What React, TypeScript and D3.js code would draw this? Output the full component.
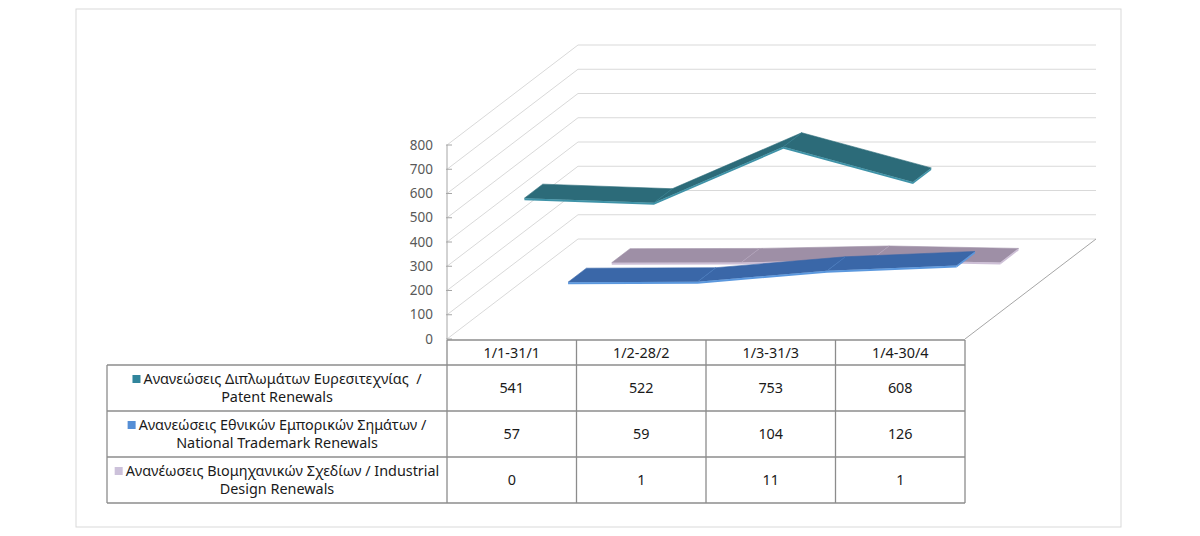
import React, { useEffect, useRef } from "react";
import * as d3 from "d3";

const categories = ["1/1-31/1", "1/2-28/2", "1/3-31/3", "1/4-30/4"];
const patentValues = [541, 522, 753, 608];
const trademarkValues = [57, 59, 104, 126];
const designValues = [0, 1, 11, 1];
const yTicks = [0, 100, 200, 300, 400, 500, 600, 700, 800];

const seriesNames = [
  ["Ανανεώσεις Διπλωμάτων Ευρεσιτεχνίας  /", "Patent Renewals"],
  ["Ανανεώσεις Εθνικών Εμπορικών Σημάτων /", "National Trademark Renewals"],
  ["Ανανέωσεις Βιομηχανικών Σχεδίων / Industrial", "Design Renewals"],
];
const seriesValues = [patentValues, trademarkValues, designValues];
const swatchColors = ["#31859C", "#558ED5", "#CCC1DA"];
const topColors = ["#2C6B79", "#3A67A8", "#9E8FA6"];
const edgeColors = ["#3F93A8", "#5B98DE", "#CDBFD6"];

const FONT = "'Noto Sans', 'DejaVu Sans', sans-serif";
const TFS = 14.4;

export default function App() {
  const ref = useRef<SVGSVGElement>(null);

  useEffect(() => {
    document.body.style.margin = "0";
    const svg = d3.select(ref.current);
    svg.selectAll("*").remove();

    const W = 1200, H = 536;
    svg.append("rect").attr("width", W).attr("height", H).attr("fill", "#fff");
    svg.append("rect").attr("x", 76).attr("y", 9).attr("width", 1045).attr("height", 518)
      .attr("fill", "none").attr("stroke", "#d9d9d9").attr("stroke-width", 1);

    const x0 = 447, x1 = 965;
    const DX = 131, DY = 100;
    const x = d3.scaleBand<string>().domain(categories).range([x0, x1]).padding(0);
    const y = d3.scaleLinear().domain([0, 800]).range([339, 145]);
    const cx = (i: number) => (x(categories[i]) as number) + x.bandwidth() / 2;
    const proj = (i: number, v: number, d: number): [number, number] => [cx(i) + DX * d, y(v) - DY * d];

    const g = svg.append("g");
    yTicks.forEach((t) => {
      const yy = y(t);
      g.append("line").attr("x1", x0).attr("y1", yy).attr("x2", x0 + DX).attr("y2", yy - DY)
        .attr("stroke", "#d9d9d9").attr("stroke-width", 1);
      g.append("line").attr("x1", x0 + DX).attr("y1", yy - DY).attr("x2", x1 + DX).attr("y2", yy - DY)
        .attr("stroke", "#d9d9d9").attr("stroke-width", 1);
    });
    g.append("line").attr("x1", x1).attr("y1", y(0)).attr("x2", x1 + DX).attr("y2", y(0) - DY)
      .attr("stroke", "#a6a6a6").attr("stroke-width", 1);
    g.append("line").attr("x1", x0).attr("y1", y(800)).attr("x2", x0).attr("y2", y(0))
      .attr("stroke", "#a6a6a6").attr("stroke-width", 1);
    yTicks.forEach((t) => {
      g.append("line").attr("x1", x0 - 1).attr("y1", y(t)).attr("x2", x0 + 5).attr("y2", y(t))
        .attr("stroke", "#a6a6a6").attr("stroke-width", 1);
      g.append("text").attr("x", 433).attr("y", y(t)).attr("dy", "0.35em")
        .attr("text-anchor", "end").attr("font-family", FONT).attr("font-size", 13.5)
        .attr("fill", "#595959").text(String(t));
    });

    const half = 0.07, thick = 2;
    [2, 1, 0].forEach((s) => {
      const vals = seriesValues[s];
      const dc = (s + 0.5) / 3;
      const F = vals.map((v, i) => proj(i, v, dc - half));
      const B = vals.map((v, i) => proj(i, v, dc + half));
      const sg = g.append("g");
      for (let i = 0; i < vals.length - 1; i++) {
        const poly = [F[i], F[i + 1], B[i + 1], B[i]];
        sg.append("polygon").attr("points", poly.map((p) => p.join(",")).join(" "))
          .attr("fill", topColors[s]).attr("stroke", topColors[s]).attr("stroke-width", 0.6);
      }
      const n = vals.length - 1;
      const cap = [F[n], B[n], [B[n][0], B[n][1] + thick], [F[n][0], F[n][1] + thick]];
      sg.append("polygon").attr("points", cap.map((p) => p.join(",")).join(" ")).attr("fill", edgeColors[s]);
      const front = [...F, ...F.slice().reverse().map((p) => [p[0], p[1] + thick])];
      sg.append("polygon").attr("points", front.map((p) => p.join(",")).join(" ")).attr("fill", edgeColors[s]);
      for (let i = 1; i < n; i++) {
        sg.append("line").attr("x1", F[i][0]).attr("y1", F[i][1]).attr("x2", B[i][0]).attr("y2", B[i][1])
          .attr("stroke", edgeColors[s]).attr("stroke-width", 0.6).attr("opacity", 0.6);
      }
    });

    const tableLeft = 107;
    const rowsY = [340, 365, 411, 457, 503];
    const lc = "#8c8c8c";
    const tg = svg.append("g");
    const line = (a: number, b: number, c: number, d: number) =>
      tg.append("line").attr("x1", a).attr("y1", b).attr("x2", c).attr("y2", d)
        .attr("stroke", lc).attr("stroke-width", 1.3);
    line(x0, rowsY[0], x1, rowsY[0]);
    for (let r = 1; r < rowsY.length; r++) line(tableLeft, rowsY[r], x1, rowsY[r]);
    line(tableLeft, rowsY[1], tableLeft, rowsY[4]);
    categories.forEach((c) => line(x(c) as number, rowsY[0], x(c) as number, rowsY[4]));
    line(x1, rowsY[0], x1, rowsY[4]);

    categories.forEach((c, i) => {
      tg.append("text").attr("x", cx(i)).attr("y", (rowsY[0] + rowsY[1]) / 2).attr("dy", "0.35em")
        .attr("text-anchor", "middle").attr("font-family", FONT).attr("font-size", TFS)
        .attr("fill", "#1a1a1a").text(c);
    });

    const labelCx = (tableLeft + x0) / 2;
    seriesNames.forEach((lines, r) => {
      const mid = (rowsY[r + 1] + rowsY[r + 2]) / 2;
      const y1 = mid - 9, y2 = mid + 9;
      const t1 = tg.append("text").attr("y", y1).attr("dy", "0.35em")
        .attr("font-family", FONT).attr("font-size", TFS).attr("fill", "#1a1a1a")
        .attr("xml:space", "preserve").style("white-space", "pre").text(lines[0]);
      const w1 = (t1.node() as SVGTextElement).getComputedTextLength();
      const sw = 8, gap = 3;
      const start = labelCx - (sw + gap + w1) / 2;
      t1.attr("x", start + sw + gap);
      tg.append("rect").attr("x", start).attr("y", y1 - sw / 2).attr("width", sw).attr("height", sw)
        .attr("fill", swatchColors[r]);
      tg.append("text").attr("x", labelCx).attr("y", y2).attr("dy", "0.35em").attr("text-anchor", "middle")
        .attr("font-family", FONT).attr("font-size", TFS).attr("fill", "#1a1a1a").text(lines[1]);
      seriesValues[r].forEach((v, i) => {
        tg.append("text").attr("x", cx(i)).attr("y", mid).attr("dy", "0.35em").attr("text-anchor", "middle")
          .attr("font-family", FONT).attr("font-size", TFS).attr("fill", "#1a1a1a").text(String(v));
      });
    });
  }, []);

  return <svg ref={ref} width={1200} height={536} style={{ display: "block" }} />;
}
